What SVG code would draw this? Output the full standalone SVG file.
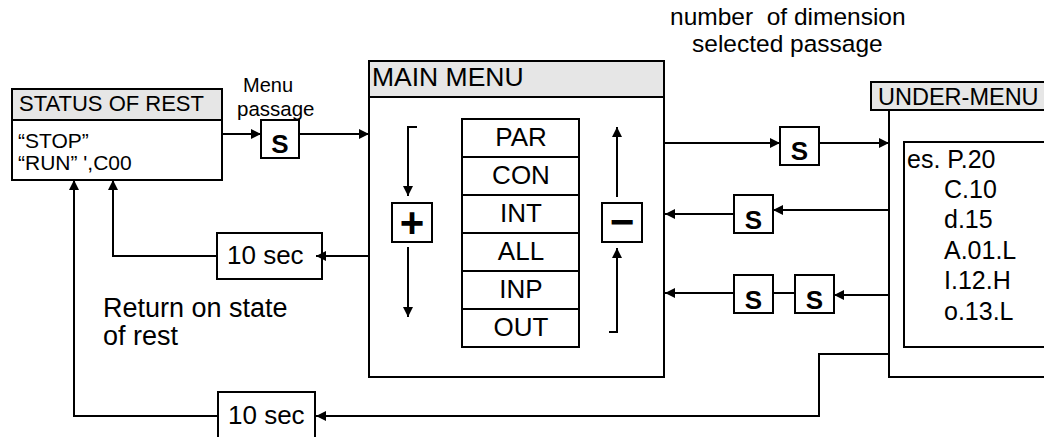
<svg xmlns="http://www.w3.org/2000/svg" width="1044" height="437" viewBox="0 0 1044 437">
<defs>
<style>
text{font-family:"Liberation Sans",Arial,Helvetica,sans-serif;fill:#000}
.box{fill:#fff;stroke:#000;stroke-width:2}
.hdr{fill:#e6e6e6;stroke:#000;stroke-width:2}
.ln{fill:none;stroke:#000;stroke-width:2}
.arr{fill:none;stroke:#000;stroke-width:2;marker-end:url(#ah)}
.t26{font-size:26px}
.t25{font-size:25px}
.t21{font-size:21px}
.c{text-anchor:middle}
.s{font-size:26px;font-weight:bold;text-anchor:middle}
.sym{font-size:42px;font-weight:bold;text-anchor:middle}
</style>
<marker id="ah" viewBox="0 0 10 10" refX="10" refY="5" markerWidth="11" markerHeight="10" markerUnits="userSpaceOnUse" orient="auto">
<path d="M0,0 L10,5 L0,10 z" fill="#000"/>
</marker>
</defs>
<rect width="1044" height="437" fill="#fff"/>

<g id="status-of-rest">
<rect class="box" x="12" y="89" width="210" height="91"/>
<rect class="hdr" x="12" y="89" width="210" height="31"/>
<text style="font-size:22px" x="19" y="111">STATUS OF REST</text>
<text class="t21" x="18" y="148">“STOP”</text>
<text class="t21" x="18" y="170">“RUN” ',C00</text>
</g>

<g id="label-menu-passage">
<text style="font-size:20px" x="243" y="92">Menu</text>
<text style="font-size:20.5px" x="237" y="116">passage</text>
</g>

<g id="label-number">
<text style="font-size:24.5px;white-space:pre" x="670" y="25">number  of dimension</text>
<text style="font-size:24.5px" x="692" y="52">selected passage</text>
</g>

<g id="s1"><rect class="box" x="261" y="120" width="38" height="38"/><text class="s" x="280" y="153">S</text></g>

<g id="main-menu">
<rect class="box" x="369" y="61" width="295" height="316"/>
<rect class="hdr" x="369" y="61" width="295" height="36"/>
<text style="font-size:26.5px" x="372" y="86">MAIN MENU</text>
<rect class="box" x="462" y="119" width="117" height="228"/>
<path class="ln" d="M462,157H579M462,195H579M462,233H579M462,271H579M462,309H579"/>
<text class="t26 c" x="521" y="146">PAR</text>
<text class="t26 c" x="521" y="184">CON</text>
<text class="t26 c" x="521" y="222">INT</text>
<text class="t26 c" x="521" y="260">ALL</text>
<text class="t26 c" x="521" y="298">INP</text>
<text class="t26 c" x="521" y="336">OUT</text>
<rect class="box" x="392" y="203" width="40" height="39"/>
<text class="sym" x="412" y="237">+</text>
<rect class="box" x="602" y="203" width="40" height="39"/>
<text class="sym" x="622" y="236">−</text>
<path class="arr" d="M417,127H408V196"/>
<path class="arr" d="M408,247V317"/>
<path class="arr" d="M617,197V127"/>
<path class="arr" d="M609,332H617V248"/>
</g>

<g id="s2"><rect class="box" x="780" y="127" width="39" height="38"/><text class="s" x="799.5" y="160">S</text></g>
<g id="s3"><rect class="box" x="734" y="195" width="39" height="38"/><text class="s" x="753.5" y="229">S</text></g>
<g id="s4"><rect class="box" x="734" y="275" width="39" height="38"/><text class="s" x="753.5" y="309">S</text></g>
<g id="s5"><rect class="box" x="795" y="275" width="39" height="38"/><text class="s" x="814.5" y="309">S</text></g>

<g id="under-menu">
<rect class="box" x="889" y="110" width="200" height="267"/>
<rect class="hdr" x="871" y="82" width="200" height="28"/>
<text style="font-size:23.5px" x="878" y="105">UNDER-MENU</text>
<rect class="box" x="904" y="142" width="200" height="205"/>
<text class="t25" x="907" y="168">es. P.20</text>
<text class="t25" x="944" y="198">C.10</text>
<text class="t25" x="944" y="228">d.15</text>
<text class="t25" x="944" y="259">A.01.L</text>
<text class="t25" x="944" y="289">I.12.H</text>
<text class="t25" x="944" y="320">o.13.L</text>
</g>

<g id="timer-1"><rect class="box" x="217" y="233" width="105" height="46"/><text class="t26" x="227" y="264">10 sec</text></g>
<g id="timer-2"><rect class="box" x="218" y="392" width="97" height="60"/><text class="t26" x="228" y="424">10 sec</text></g>

<g id="label-return">
<text style="font-size:27px" x="103" y="317">Return on state</text>
<text style="font-size:27px" x="103" y="345">of rest</text>
</g>

<g id="connectors">
<path class="arr" d="M222,134H261"/>
<path class="arr" d="M299,134H369"/>
<path class="arr" d="M664,143H780"/>
<path class="arr" d="M819,143H889"/>
<path class="arr" d="M889,210H773"/>
<path class="arr" d="M734,214H665"/>
<path class="arr" d="M889,295H834"/>
<path class="ln" d="M795,293H773"/>
<path class="arr" d="M734,293H665"/>
<path class="arr" d="M369,256H316"/>
<path class="arr" d="M217,256H113V180"/>
<path class="arr" d="M889,354H819V416H316"/>
<path class="arr" d="M218,416H74V180"/>
</g>
</svg>
